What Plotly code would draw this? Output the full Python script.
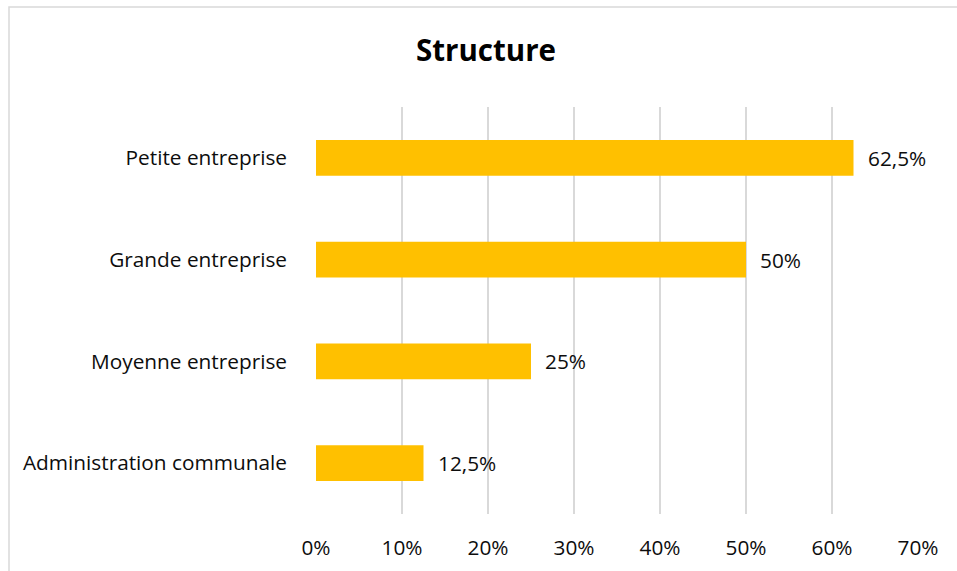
import plotly.graph_objects as go

categories = ["Administration communale", "Moyenne entreprise", "Grande entreprise", "Petite entreprise"]
values = [12.5, 25, 50, 62.5]
tick_vals = [0, 10, 20, 30, 40, 50, 60, 70]
tick_text = ["0%", "10%", "20%", "30%", "40%", "50%", "60%", "70%"]
title_text = "Structure"

def fmt(v):
    return ("%g" % v).replace(".", ",") + "%"

labels = [fmt(v) for v in values]

FONT = "Open Sans, Lato, sans-serif"
TXT = "#0d0d0d"
FS = 20.8
W, H = 957, 571
L, R, T, B = 316, 39, 107, 57
pw, ph = W - L - R, H - T - B

fig = go.Figure(go.Bar(
    y=categories, x=values, orientation="h",
    marker=dict(color="#FFC000", line=dict(width=0)),
    hoverinfo="x+y",
))

for c, v, lab in zip(categories, values, labels):
    fig.add_annotation(x=v, y=c, text=lab, showarrow=False, xanchor="left", yanchor="middle",
                       xshift=12, font=dict(family=FONT, size=FS, color=TXT))

fig.update_layout(
    width=W, height=H,
    margin=dict(l=L, r=R, t=T, b=B, autoexpand=False),
    paper_bgcolor="white", plot_bgcolor="white",
    bargap=0.65,
    showlegend=False,
    title=dict(text="<b>" + title_text + "</b>", x=486 / W, xanchor="center", y=1 - 51 / H, yanchor="middle",
               font=dict(family=FONT, size=29.5, color="#000000")),
    font=dict(family=FONT, size=FS, color=TXT),
    xaxis=dict(range=[0, 70], tickvals=tick_vals, ticktext=tick_text, showgrid=True,
               gridcolor="#d9d9d9", gridwidth=1.5, zeroline=False, showline=False,
               ticks="", ticklabelstandoff=19, automargin=False,
               tickfont=dict(family=FONT, size=FS, color=TXT)),
    yaxis=dict(showgrid=False, zeroline=False, showline=False, ticks="",
               ticklabelstandoff=28, automargin=False,
               tickfont=dict(family=FONT, size=FS, color=TXT)),
    shapes=[dict(type="rect", xref="paper", yref="paper",
                 x0=(9 - L) / pw, x1=(W + 20 - L) / pw,
                 y0=(H - B - (H + 20)) / ph, y1=(H - B - 7) / ph,
                 line=dict(color="#d9d9d9", width=1.5), fillcolor="rgba(0,0,0,0)", layer="below")],
)

fig.write_html("out.html", config={"displayModeBar": False},
               post_script="document.body.style.margin='0';document.body.style.overflow='hidden';")
